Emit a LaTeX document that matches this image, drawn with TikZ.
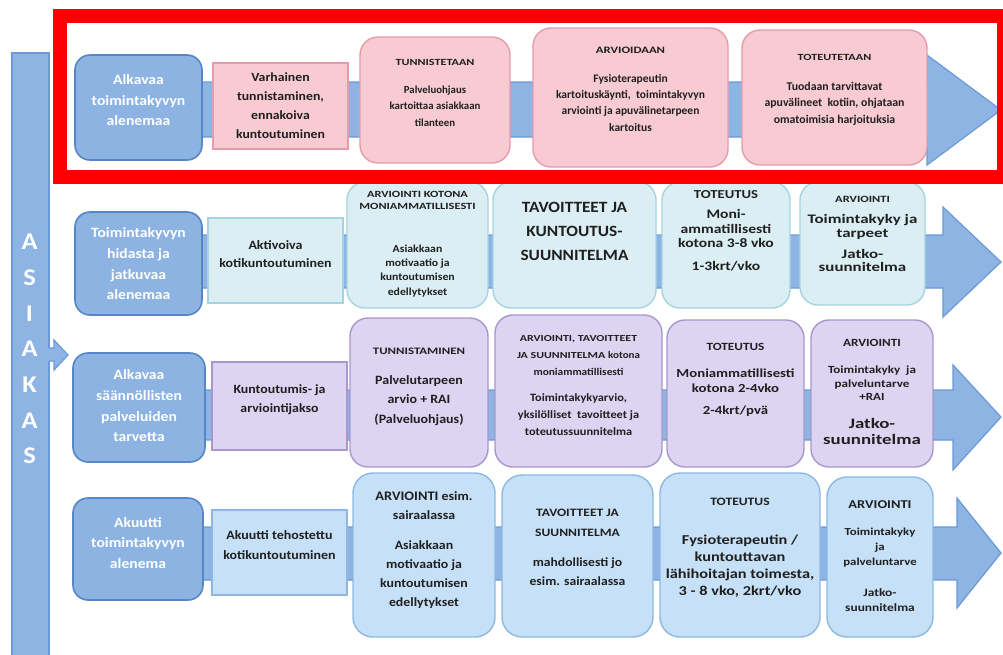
\documentclass[tikz,border=0pt]{standalone}
\usepackage{fontspec}
\setmainfont{Carlito}
\newfontfamily\stA{Carlito}[FakeStretch=1.0]
\newfontfamily\stB{Carlito}[FakeStretch=1.1]
\newfontfamily\stC{Carlito}[FakeStretch=1.2]
\newfontfamily\stD{Carlito}[FakeStretch=1.3]
\newcommand\fA[2]{\stA\bfseries\fontsize{#1}{#2}\selectfont}
\newcommand\fB[2]{\stB\bfseries\fontsize{#1}{#2}\selectfont}
\newcommand\fC[2]{\stC\bfseries\fontsize{#1}{#2}\selectfont}
\newcommand\fD[2]{\stD\bfseries\fontsize{#1}{#2}\selectfont}
\newcommand\hA[1]{\stA\bfseries\fontsize{#1}{#1}\selectfont}
\newcommand\hB[1]{\stB\bfseries\fontsize{#1}{#1}\selectfont}
\newcommand\hC[1]{\stC\bfseries\fontsize{#1}{#1}\selectfont}
\newcommand\hD[1]{\stD\bfseries\fontsize{#1}{#1}\selectfont}
\definecolor{labfill}{HTML}{8DB3E2}
\definecolor{labline}{HTML}{5586C8}
\definecolor{arrfill}{HTML}{8DB4E2}
\definecolor{arrline}{HTML}{6B9AD6}
\definecolor{pinkfill}{HTML}{F8CBD3}
\definecolor{pinkline}{HTML}{E79BAA}
\definecolor{aquafill}{HTML}{DBEEF4}
\definecolor{aqualine}{HTML}{A5D3E0}
\definecolor{lavfill}{HTML}{DDD4F2}
\definecolor{lavline}{HTML}{A797CC}
\definecolor{lbfill}{HTML}{C6E1F7}
\definecolor{lbline}{HTML}{8DB8E3}
\definecolor{txtcol}{HTML}{1F1F1F}
\definecolor{framered}{HTML}{FF0000}
\newcommand\bx[6]{\node[#2, minimum width={(#5)-(#3)}, minimum height={(#6)-(#4)}] (#1) at ({((#3)+(#5))/2},{((#4)+(#6))/2}) {};}
\newcommand\rowarrow[8]{% name, start x, shaft top, shaft bottom, head x, head top, head bottom, tip y
  \coordinate (#1) at (1001,#8);
  \path[fill=arrfill, draw=arrline, line width=1.2pt, line join=miter]
    (#2,#3) -- (#5,#3) -- (#5,#6) -- (#1) -- (#5,#7) -- (#5,#4) -- (#2,#4) -- cycle;}
\begin{document}
\begin{tikzpicture}[x=1pt,y=-1pt,
  lab/.style={draw=labline, fill=labfill, line width=1.6pt, rounded corners=15pt, inner sep=0pt},
  pinkr/.style={draw=pinkline, fill=pinkfill, line width=1.4pt, inner sep=0pt},
  pinkb/.style={pinkr, rounded corners=18pt},
  aquar/.style={draw=aqualine, fill=aquafill, line width=1.4pt, inner sep=0pt},
  aquab/.style={aquar, rounded corners=18pt},
  lavr/.style={draw=lavline, fill=lavfill, line width=1.4pt, inner sep=0pt},
  lavb/.style={lavr, rounded corners=18pt},
  lbr/.style={draw=lbline, fill=lbfill, line width=1.4pt, inner sep=0pt},
  lbb/.style={lbr, rounded corners=20pt},
  txt/.style={align=center, inner sep=0pt, text=txtcol},
  wtxt/.style={align=center, inner sep=0pt, text=white}]
\useasboundingbox (0,0) rectangle (1003,654);
\fill[white] (0,0) rectangle (1003,654);

% ASIAKAS column
\node[draw=arrline, fill=arrfill, line width=1.2pt, minimum width=37pt, minimum height=620pt, inner sep=0pt] (colbar) at (30.5,363) {};
\fill[arrfill] (47,348) -- (54,348) -- (54,340) -- (68,355) -- (54,370) -- (54,361) -- (47,361) -- cycle;
\draw[arrline, line width=1.2pt, line join=miter] (49,348) -- (54,348) -- (54,340) -- (68,355) -- (54,370) -- (54,361) -- (49,361);
\node[wtxt, font=\fB{24}{35.7}] (asiakas) at (29.5,349) {A\\S\\I\\A\\K\\A\\S};

% row arrows
\rowarrow{tip1}{140}{82}{137}{927}{55}{165}{110}
\rowarrow{tip2}{140}{235}{288}{943}{207}{317}{262}
\rowarrow{tip3}{140}{390}{440}{953}{365}{470}{417}
\rowarrow{tip4}{140}{527}{580}{957}{498}{608}{553}

% row 1
\bx{b11}{lab}{75}{55}{202}{160}
\bx{b12}{pinkr}{213}{63}{348}{149}
\bx{b13}{pinkb}{360}{37}{510}{163}
\bx{b14}{pinkb}{533}{28}{728}{167}
\bx{b15}{pinkb}{742}{30}{927}{165}
\node[wtxt, font=\fB{14.2}{20.5}] (t11) at (138.5,100.5) {Alkavaa\\toimintakyvyn\\alenemaa};
\node[txt, font=\fB{12.5}{19}] (t12) at (280.5,106) {Varhainen\\tunnistaminen,\\ennakoiva\\kuntoutuminen};
\node[txt, font=\fA{10.8}{16.5}] (t13) at (435,92.5) {{\hD{9.4}TUNNISTETAAN}\\[11.5pt]Palveluohjaus\\kartoittaa asiakkaan\\tilanteen};
\node[txt, font=\fA{11.5}{16.3}] (t14) at (630.5,89) {{\hD{9.8}ARVIOIDAAN}\\[12.7pt]Fysioterapeutin\\kartoituskäynti,\ \ toimintakyvyn\\arviointi ja apuvälinetarpeen\\kartoitus};
\node[txt, font=\fA{11.8}{16.5}] (t15) at (834.5,89.5) {{\hD{9.4}TOTEUTETAAN}\\[13.5pt]Tuodaan tarvittavat\\apuvälineet\ \ kotiin, ohjataan\\omatoimisia harjoituksia};

% row 2
\bx{b21}{lab}{75}{212}{202}{315}
\bx{b22}{aquar}{208}{218}{343}{303}
\bx{b23}{aquab}{347}{182}{488}{308}
\bx{b24}{aquab}{493}{182}{656}{308}
\bx{b25}{aquab}{662}{182}{790}{308}
\bx{b26}{aquab}{800}{182}{925}{305}
\node[wtxt, font=\fB{14.2}{20.7}] (t21) at (138.5,264) {Toimintakyvyn\\hidasta ja\\jatkuvaa\\alenemaa};
\node[txt, font=\fB{12.7}{18.5}] (t22) at (275.5,254) {Aktivoiva\\kotikuntoutuminen};
\node[txt, font=\fB{10.7}{14.3}] (t23) at (417.5,244) {{\hD{9.5}ARVIOINTI KOTONA}\\[-2.3pt]{\hD{9.5}MONIAMMATILLISESTI}\\[28.7pt]Asiakkaan\\motivaatio ja\\kuntoutumisen\\edellytykset};
\node[txt, font=\fB{15.7}{24}] (t24) at (574.5,231) {TAVOITTEET JA\\KUNTOUTUS-\\SUUNNITELMA};
\node[txt, font=\fC{13}{14.5}] (t25) at (726,231) {{\hC{12.2}TOTEUTUS}\\[5.5pt]Moni-\\ammatillisesti\\kotona 3-8 vko\\[8.5pt]1-3krt/vko};
\node[txt, font=\fD{13}{14.5}] (t26) at (862.5,234) {{\hD{9.6}ARVIOINTI}\\[6.5pt]Toimintakyky ja\\tarpeet\\[6.5pt]Jatko-\\[-1.5pt]suunnitelma};

% row 3
\bx{b31}{lab}{73}{353}{205}{462}
\bx{b32}{lavr}{212}{362}{347}{450}
\bx{b33}{lavb}{350}{318}{488}{467}
\bx{b34}{lavb}{495}{315}{662}{467}
\bx{b35}{lavb}{667}{320}{804}{467}
\bx{b36}{lavb}{811}{320}{933}{467}
\node[wtxt, font=\fB{14.2}{20.7}] (t31) at (139,406) {Alkavaa\\säännöllisten\\palveluiden\\tarvetta};
\node[txt, font=\fB{12.6}{19}] (t32) at (279.5,399.5) {Kuntoutumis- ja\\arviointijakso};
\node[txt, font=\fB{12.7}{19.5}] (t33) at (419,386.5) {{\hD{9.9}TUNNISTAMINEN}\\[10.5pt]Palvelutarpeen\\arvio + RAI\\(Palveluohjaus)};
\node[txt, font=\fB{11.2}{17}] (t34) at (578.5,385.5) {{\hD{9.2}ARVIOINTI, TAVOITTEET}\\{\hD{9.2}JA SUUNNITELMA}\ {\hB{10}kotona}\\{\hB{10.3}moniammatillisesti}\\[9pt]Toimintakykyarvio,\\yksilölliset\ \ tavoitteet ja\\toteutussuunnitelma};
\node[txt, font=\fC{12.3}{15}] (t35) at (735.5,380) {{\hC{11}TOTEUTUS}\\[12pt]Moniammatillisesti\\kotona 2-4vko\\[7pt]2-4krt/pvä};
\node[txt, font=\fC{10.9}{13.5}] (t36) at (872,392) {{\hC{11}ARVIOINTI}\\[13.5pt]Toimintakyky\ \ ja\\palveluntarve\\+RAI\\[14.5pt]{\hD{14.5}Jatko-}\\[2.5pt]{\hD{14.5}suunnitelma}};

% row 4
\bx{b41}{lab}{73}{498}{203}{600}
\bx{b42}{lbr}{212}{510}{347}{595}
\bx{b43}{lbb}{353}{473}{495}{637}
\bx{b44}{lbb}{502}{475}{653}{637}
\bx{b45}{lbb}{660}{473}{820}{637}
\bx{b46}{lbb}{827}{477}{933}{637}
\node[wtxt, font=\fB{14.2}{20.7}] (t41) at (138,543) {Akuutti\\toimintakyvyn\\alenema};
\node[txt, font=\fB{12.7}{20}] (t42) at (279.5,545) {Akuutti tehostettu\\kotikuntoutuminen};
\node[txt, font=\fB{12.6}{19}] (t43) at (424,550) {{\hB{13.1}ARVIOINTI} esim.\\sairaalassa\\[11pt]Asiakkaan\\motivaatio ja\\kuntoutumisen\\edellytykset};
\node[txt, font=\fB{12.4}{19.5}] (t44) at (577.5,547.5) {{\hC{11.3}TAVOITTEET JA}\\{\hC{11.3}SUUNNITELMA}\\[10.5pt]mahdollisesti jo\\esim. sairaalassa};
\node[txt, font=\fC{13.6}{17}] (t45) at (740,548) {{\hC{11.3}TOTEUTUS}\\[22pt]Fysioterapeutin /\\kuntouttavan\\lähihoitajan toimesta,\\3 - 8 vko, 2krt/vko};
\node[txt, font=\fC{10.7}{15}] (t46) at (880,556.5) {{\hC{12}ARVIOINTI}\\[12pt]Toimintakyky\\ja\\palveluntarve\\[16pt]{\hC{11.2}Jatko-}\\{\hC{11.2}suunnitelma}};

% red frame
\draw[framered, line width=14pt] (60,15.5) rectangle (1004,176.5);
\end{tikzpicture}
\end{document}
